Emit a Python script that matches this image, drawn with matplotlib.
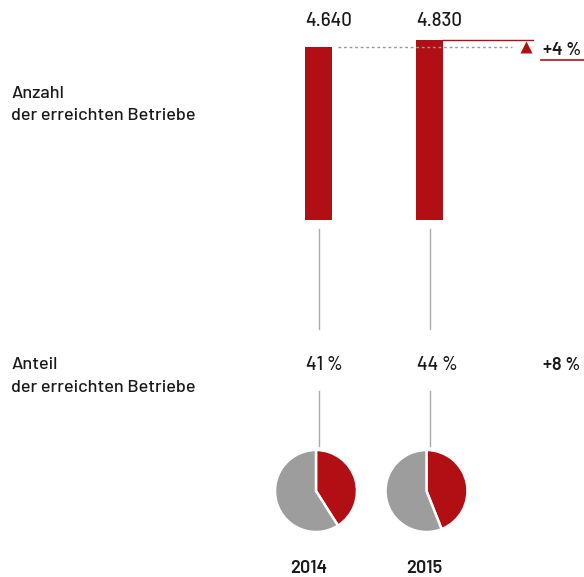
import matplotlib.pyplot as plt
from matplotlib import font_manager

years = ["2014", "2015"]
counts = [4640, 4830]
count_labels = ["4.640", "4.830"]
shares = [41, 44]
count_change = "+4 %"
share_change = "+8 %"
row_labels = [["Anzahl", "der erreichten Betriebe"],
              ["Anteil", "der erreichten Betriebe"]]

RED = "#b20f14"
GREY = "#9d9d9d"
LINE_GREY = "#ababab"
INK = "#1a1a1a"

# DIN-like face, first one available
names = {f.name for f in font_manager.fontManager.ttflist}
for cand in ["Barlow", "Roboto Condensed", "PT Sans Narrow", "Roboto"]:
    if cand in names:
        family = cand
        break
plt.rcParams["font.family"] = [family, "DejaVu Sans"]
plt.rcParams["font.weight"] = 500

W, H = 584, 577
fig = plt.figure(figsize=(W / 100, H / 100), dpi=100)

# full-figure axes in pixel units (y grows downward)
ax = fig.add_axes([0, 0, 1, 1])
ax.set_xlim(0, W)
ax.set_ylim(H, 0)
ax.axis("off")

xs = [318.5, 429.5]
bar_w = 27

# bar axes: baseline at y=220 px, 200 px tall
base_px, top_px = 220, 20
bax = fig.add_axes([0, (H - base_px) / H, 1, (base_px - top_px) / H])
px_per_unit = 173 / 4640
bax.set_xlim(0, W)
bax.set_ylim(0, (base_px - top_px) / px_per_unit)
bax.axis("off")
bax.bar(xs, counts, width=bar_w, color=RED)
bax.plot([338, 512], [counts[0], counts[0]], color="#999999", lw=1, ls=(0, (2, 2)))
bax.plot([443, 533], [counts[1], counts[1]], color=RED, lw=1)

for x, lab in zip(xs, count_labels):
    ax.text(x - bar_w / 2, 26, lab, ha="left", va="baseline", fontsize=13.5,
            color=INK)

ax.plot([526], [47], marker="^", color=RED, ms=9, mec="none")
ax.text(543, 55, count_change, ha="left", va="baseline", fontsize=13,
        fontweight=600, color=INK)
ax.plot([541, 584], [59.5, 59.5], color=RED, lw=1.2)

# connector lines
for x in xs:
    ax.plot([x, x], [229, 329], color=LINE_GREY, lw=1)
    ax.plot([x, x], [391, 446], color=LINE_GREY, lw=1)

for x, s in zip(xs, shares):
    ax.text(x - bar_w / 2 + 1, 369.5, f"{s} %", ha="left", va="baseline",
            fontsize=13.5, color=INK)
ax.text(543, 369.5, share_change, ha="left", va="baseline", fontsize=13,
        fontweight=600, color=INK)

# row captions, one line at a time
for lines, baselines in zip(row_labels, [(98, 120), (369, 392)]):
    for line, yb in zip(lines, baselines):
        ax.text(11, yb, line, ha="left", va="baseline", fontsize=13, color=INK)

# pies
r = 41
pie_x = [316, 426.5]
year_x = [309, 424]
for x, s, yx, y in zip(pie_x, shares, year_x, years):
    pax = fig.add_axes([(x - r) / W, (H - 491 - r) / H, 2 * r / W, 2 * r / H])
    pax.pie([s, 100 - s], colors=[RED, GREY], startangle=90, counterclock=False,
            radius=1, wedgeprops=dict(edgecolor="white", linewidth=1.8))
    pax.set_xlim(-1, 1)
    pax.set_ylim(-1, 1)
    pax.axis("off")
    ax.text(yx, 573, y, ha="center", va="baseline", fontsize=13,
            fontweight=600, color=INK)

fig.savefig("out.png", dpi=100)
